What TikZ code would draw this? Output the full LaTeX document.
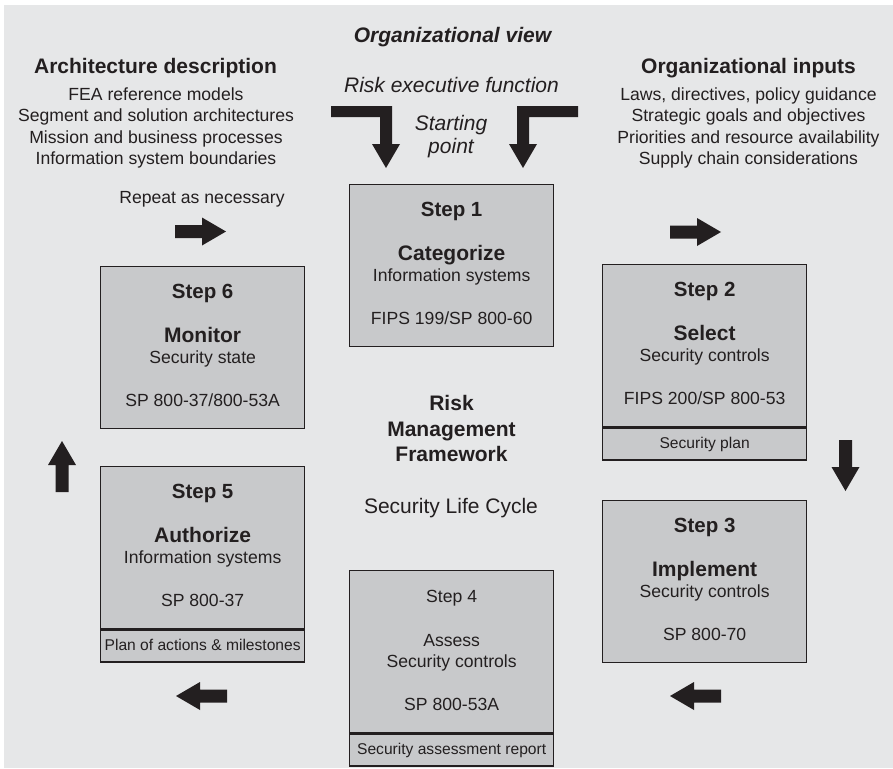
\documentclass[tikz,border=0pt]{standalone}
\usepackage{fontspec}
\setmainfont{Liberation Sans}
\usetikzlibrary{calc}

\definecolor{ink}{HTML}{231F20}
\definecolor{panel}{HTML}{E6E7E8}
\definecolor{boxfill}{HTML}{C8C9CB}

\tikzset{
  txt/.style={anchor=base, inner sep=0pt, text=ink, font=\fontsize{17.6}{21}\selectfont},
  headtxt/.style={txt, font=\fontsize{21}{25}\selectfont\bfseries},
  italtxt/.style={txt, font=\fontsize{21}{25}\selectfont\itshape},
  bigtxt/.style={txt, font=\fontsize{21}{25}\selectfont},
  steplabel/.style={txt, font=\fontsize{20.5}{24}\selectfont\bfseries},
  smalltxt/.style={txt, font=\fontsize{15.6}{18}\selectfont},
  stepbox/.style={draw=ink, fill=boxfill, line width=1.3pt, minimum width=204pt,
    minimum height=162pt, inner sep=0pt, anchor=north west},
  stripbox/.style={draw=ink, fill=boxfill, line width=1.3pt, minimum width=204pt,
    minimum height=32pt, inner sep=0pt, anchor=north west},
  blockarrow/.pic={\fill[ink] (0,-6.5) -- (27,-6.5) -- (27,-14) -- (51,0) -- (27,14)
    -- (27,6.5) -- (0,6.5) -- cycle;}
}

\begin{document}
\begin{tikzpicture}[x=1pt, y=-1pt]
\useasboundingbox (0,0) rectangle (893,768);
\fill[white] (0,0) rectangle (893,768);
\fill[panel] (4,5) rectangle (893,768);

% top headings
\node[txt, font=\fontsize{21}{25}\selectfont\bfseries\itshape] (orgview) at (452.5,42.5) {Organizational view};
\node[italtxt] (riskexec) at (451.5,92.5) {Risk executive function};
\node[italtxt] (start1) at (451,130.5) {Starting};
\node[italtxt] (start2) at (451,153.5) {point};

% architecture description
\node[headtxt] (archhead) at (155.5,73.5) {Architecture description};
\node[txt] (arch1) at (156,100.4) {FEA reference models};
\node[txt] (arch2) at (156,121.7) {Segment and solution architectures};
\node[txt] (arch3) at (156,143) {Mission and business processes};
\node[txt] (arch4) at (156,164.3) {Information system boundaries};

% organizational inputs
\node[headtxt] (orghead) at (748.5,73.5) {Organizational inputs};
\node[txt] (org1) at (748.5,100.4) {Laws, directives, policy guidance};
\node[txt] (org2) at (748.5,121.7) {Strategic goals and objectives};
\node[txt] (org3) at (748.5,143) {Priorities and resource availability};
\node[txt] (org4) at (748.5,164.3) {Supply chain considerations};

\node[txt] (repeat) at (202,203.4) {Repeat as necessary};

% centre caption
\node[headtxt] (rmf1) at (451.5,410.5) {Risk};
\node[headtxt] (rmf2) at (451.5,436.5) {Management};
\node[headtxt] (rmf3) at (451.5,461.5) {Framework};
\node[bigtxt] (slc) at (451,513.5) {Security Life Cycle};

% step 1
\node[stepbox] (s1) at (349,184) {};
\node[steplabel] (s1a) at ($(s1.north)+(0,32)$) {Step 1};
\node[headtxt] (s1b) at ($(s1.north)+(0,76)$) {Categorize};
\node[txt] (s1c) at ($(s1.north)+(0,97.5)$) {Information systems};
\node[txt] (s1d) at ($(s1.north)+(0,140)$) {FIPS 199/SP 800-60};

% step 2
\node[stepbox] (s2) at (602,264) {};
\node[stripbox] (s2x) at (s2.south west) {};
\node[steplabel] (s2a) at ($(s2.north)+(0,32)$) {Step 2};
\node[headtxt] (s2b) at ($(s2.north)+(0,76)$) {Select};
\node[txt] (s2c) at ($(s2.north)+(0,97.5)$) {Security controls};
\node[txt] (s2d) at ($(s2.north)+(0,140)$) {FIPS 200/SP 800-53};
\node[smalltxt] (s2e) at ($(s2x.north)+(0,21.6)$) {Security plan};

% step 3
\node[stepbox] (s3) at (602,500) {};
\node[steplabel] (s3a) at ($(s3.north)+(0,32)$) {Step 3};
\node[headtxt] (s3b) at ($(s3.north)+(0,76)$) {Implement};
\node[txt] (s3c) at ($(s3.north)+(0,97.5)$) {Security controls};
\node[txt] (s3d) at ($(s3.north)+(0,140)$) {SP 800-70};

% step 4
\node[stepbox] (s4) at (349,570) {};
\node[stripbox] (s4x) at (s4.south west) {};
\node[txt] (s4a) at ($(s4.north)+(0,32)$) {Step 4};
\node[txt] (s4b) at ($(s4.north)+(0,76)$) {Assess};
\node[txt] (s4c) at ($(s4.north)+(0,97.5)$) {Security controls};
\node[txt] (s4d) at ($(s4.north)+(0,140)$) {SP 800-53A};
\node[smalltxt] (s4e) at ($(s4x.north)+(0,21.6)$) {Security assessment report};

% step 5
\node[stepbox] (s5) at (100,466) {};
\node[stripbox] (s5x) at (s5.south west) {};
\node[steplabel] (s5a) at ($(s5.north)+(0,32)$) {Step 5};
\node[headtxt] (s5b) at ($(s5.north)+(0,76)$) {Authorize};
\node[txt] (s5c) at ($(s5.north)+(0,97.5)$) {Information systems};
\node[txt] (s5d) at ($(s5.north)+(0,140)$) {SP 800-37};
\node[smalltxt] (s5e) at ($(s5x.north)+(0,21.6)$) {Plan of actions \& milestones};

% step 6
\node[stepbox] (s6) at (100,266) {};
\node[steplabel] (s6a) at ($(s6.north)+(0,32)$) {Step 6};
\node[headtxt] (s6b) at ($(s6.north)+(0,76)$) {Monitor};
\node[txt] (s6c) at ($(s6.north)+(0,97.5)$) {Security state};
\node[txt] (s6d) at ($(s6.north)+(0,140)$) {SP 800-37/800-53A};

% entry arrows from the risk executive function
\fill[ink] (331,106) -- (392,106) -- (392,144) -- (400,144) -- (386,168) -- (372,144)
  -- (380,144) -- (380,117) -- (331,117) -- cycle;
\fill[ink] (578,106) -- (517,106) -- (517,144) -- (509,144) -- (523,168) -- (537,144)
  -- (529,144) -- (529,117) -- (578,117) -- cycle;

% cycle arrows
\pic at (175,231.5) {blockarrow};
\pic at (670,232) {blockarrow};
\pic[rotate=-90] at (845.5,440) {blockarrow};
\pic[rotate=180] at (721,696) {blockarrow};
\pic[rotate=180] at (227,696) {blockarrow};
\pic[rotate=90] at (62,492) {blockarrow};
\end{tikzpicture}
\end{document}
